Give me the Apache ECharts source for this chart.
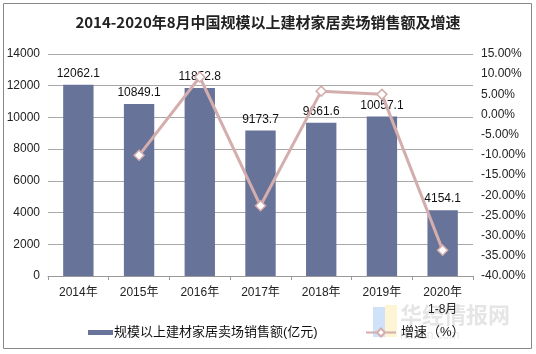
<!DOCTYPE html>
<html><head><meta charset="utf-8">
<script src="https://cdn.jsdelivr.net/npm/echarts@6/dist/echarts.min.js"></script>
<style>html,body{margin:0;padding:0;background:#fff}#c{width:536px;height:354px}</style>
</head><body><div id="c"></div>
<script>
var categories = ['2014年','2015年','2016年','2017年','2018年','2019年','2020年\n1-8月'];
var salesValues = [12062.1, 10849.1, 11852.8, 9173.7, 9661.6, 10057.1, 4154.1];
var growthValues = [null, -10.1, 9.3, -22.6, 5.8, 5.0, -33.6];
var leftTicks = {min: 0, max: 14000, interval: 2000};
var rightTicks = {min: -40, max: 15, interval: 5};

var chart = echarts.init(document.getElementById('c'), null, {renderer: 'canvas'});
var font = 'Arial, "Liberation Sans", "Noto Sans CJK SC", sans-serif';
chart.setOption({
  animation: false,
  backgroundColor: '#fff',
  title: {
    text: '2014-2020年8月中国规模以上建材家居卖场销售额及增速',
    left: 'center', top: 10,
    textStyle: {fontSize: 15, fontWeight: 'bold', color: '#222', fontFamily: '"Noto Sans CJK SC", sans-serif'}
  },
  graphic: [
    {type: 'rect', shape: {x: 3.5, y: 3.5, width: 528, height: 345}, style: {fill: 'none', stroke: '#888', lineWidth: 1}, z: 100},
    {type: 'rect', shape: {x: 373, y: 307, width: 12, height: 30}, style: {fill: 'rgba(120,170,240,0.35)'}, z: 0},
    {type: 'rect', shape: {x: 385, y: 305, width: 12, height: 32}, style: {fill: 'rgba(250,225,130,0.35)'}, z: 0},
    {type: 'text', left: 400, top: 304, style: {text: '华经情报网', fill: 'rgba(150,150,150,0.25)', font: 'bold 22px "Noto Sans CJK SC", sans-serif'}, z: 0},
    {type: 'text', left: 400, top: 330, style: {text: 'huaon.com', fill: 'rgba(150,150,150,0.25)', font: '12px Arial, sans-serif'}, z: 0}
  ],
  grid: {left: 48, right: 63, top: 54, bottom: 78, containLabel: false},
  legend: [
    {data: [{name: '规模以上建材家居卖场销售额(亿元)', icon: 'rect'}], left: 83, top: 321, itemWidth: 25, itemHeight: 5, itemGap: 2,
     textStyle: {fontSize: 13, color: '#111', fontFamily: font, padding: [0, 0, 0, -4]}},
    {data: ['增速（%）'], left: 360, top: 321, itemWidth: 30, itemHeight: 10, itemGap: 2,
     textStyle: {fontSize: 13, color: '#111', fontFamily: font}}
  ],
  xAxis: {
    type: 'category', data: categories,
    axisLine: {lineStyle: {color: '#999'}},
    axisTick: {show: true, length: 4, lineStyle: {color: '#999'}},
    axisLabel: {color: '#222', fontSize: 12, fontFamily: font, margin: 8, lineHeight: 17}
  },
  yAxis: [
    {type: 'value', min: leftTicks.min, max: leftTicks.max, interval: leftTicks.interval,
     axisLine: {show: false}, axisTick: {show: false},
     axisLabel: {color: '#222', fontSize: 12, fontFamily: font, margin: 8,
       formatter: function(v){ return String(v); }},
     splitLine: {lineStyle: {color: '#a8a8a8'}}},
    {type: 'value', min: rightTicks.min, max: rightTicks.max, interval: rightTicks.interval,
     axisLine: {show: false}, axisTick: {show: false},
     axisLabel: {color: '#222', fontSize: 12, fontFamily: font, margin: 8,
       formatter: function(v){ return v.toFixed(2) + '%'; }},
     splitLine: {show: false}}
  ],
  series: [
    {name: '规模以上建材家居卖场销售额(亿元)', type: 'bar', data: salesValues, barWidth: '50%',
     itemStyle: {color: '#677398'},
     label: {show: true, position: 'top', distance: 5, color: '#111', fontSize: 12, fontFamily: font,
       formatter: function(p){ return p.value.toFixed(1); }}},
    {name: '增速（%）', type: 'line', yAxisIndex: 1, data: growthValues,
     symbol: 'diamond', symbolSize: 10, showAllSymbol: true,
     lineStyle: {color: '#d4adad', width: 3},
     itemStyle: {color: '#fff', borderColor: '#d4adad', borderWidth: 1.5},
     z: 3}
  ]
});
</script></body></html>
